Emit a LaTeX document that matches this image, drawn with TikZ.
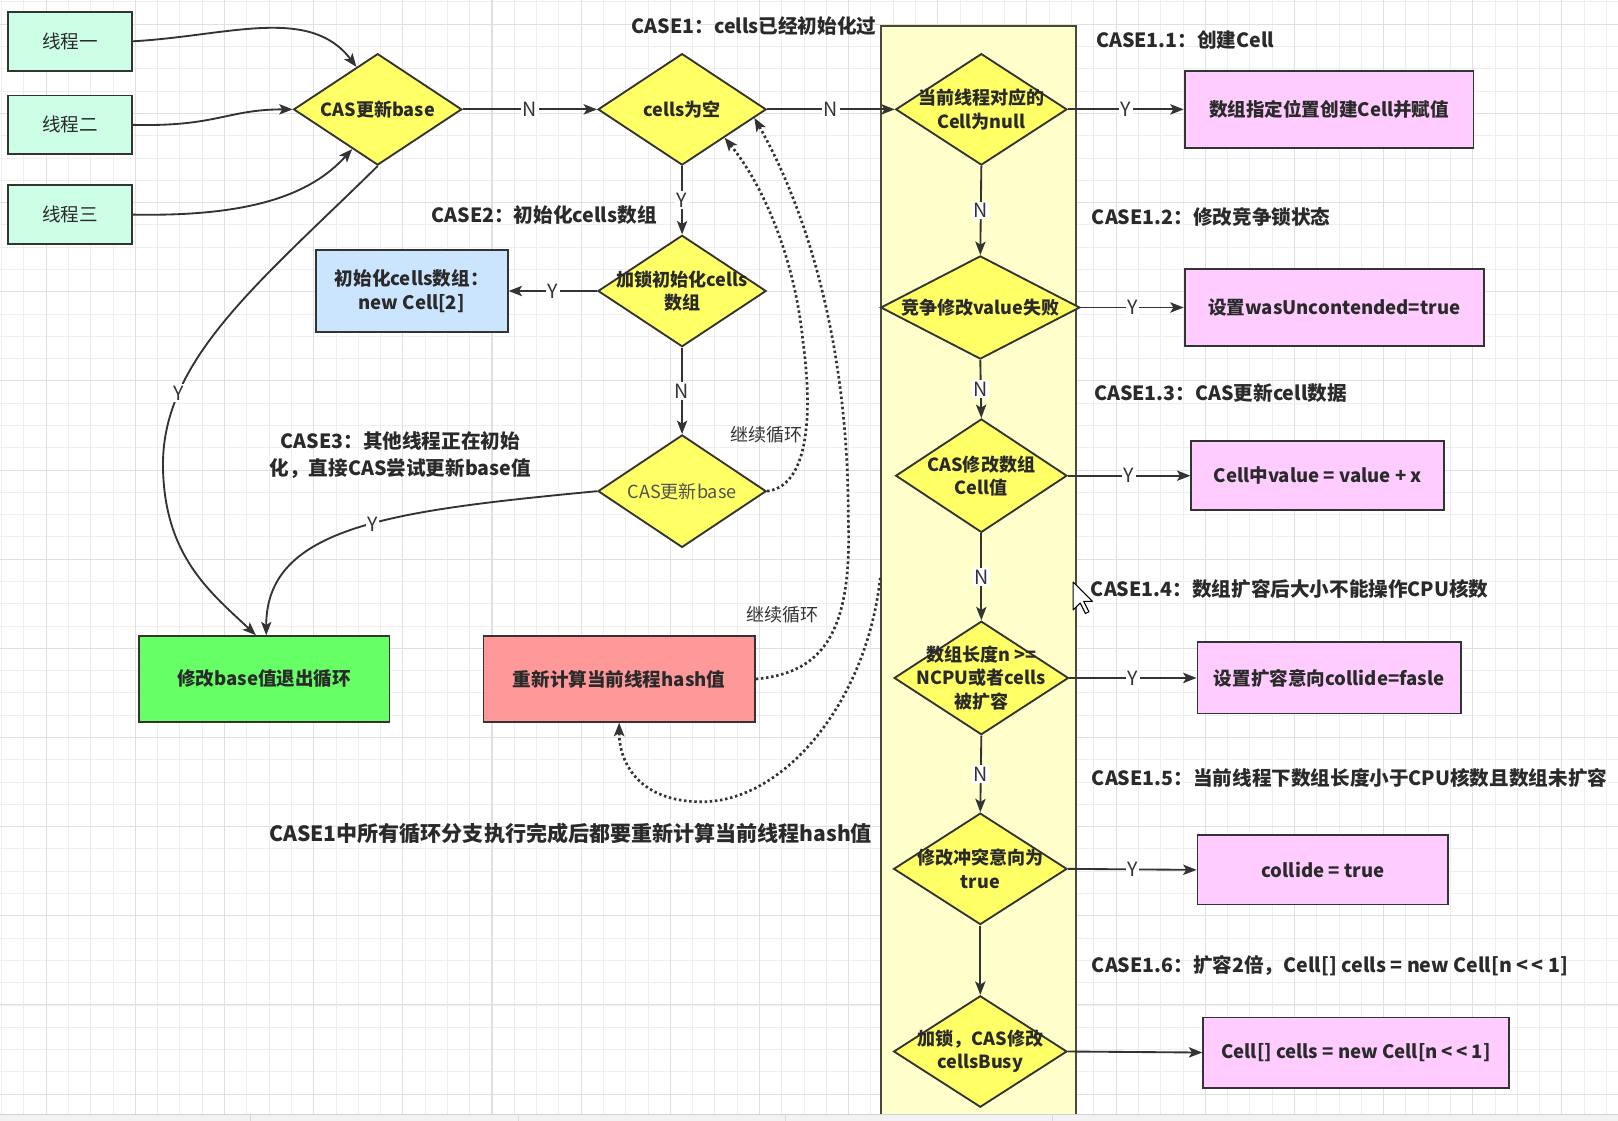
\documentclass[tikz,border=0pt]{standalone}
\usepackage{fontspec}
\setmainfont{Noto Sans CJK SC}
\usetikzlibrary{shapes.geometric,arrows.meta,calc}
\definecolor{ln}{HTML}{333333}
\definecolor{txt}{HTML}{2A2A2A}
\definecolor{dfill}{HTML}{FFFF66}
\definecolor{thr}{HTML}{CCFFE6}
\definecolor{blu}{HTML}{CCE5FF}
\definecolor{grn}{HTML}{66FF66}
\definecolor{rd}{HTML}{FF9999}
\definecolor{pnk}{HTML}{FFCCFF}
\definecolor{bandfill}{HTML}{FFFFCC}
\definecolor{bandline}{HTML}{4A4A35}
\definecolor{gminor}{HTML}{EEEEEE}
\definecolor{gmajor}{HTML}{E0E0E0}
\begin{document}
\begin{tikzpicture}[x=1pt,y=-1pt,
  every node/.style={inner sep=0pt, text=txt},
  box/.style={draw=ln, line width=1.8pt, rectangle, align=center, font=\fontsize{18}{23}\selectfont\bfseries},
  thbox/.style={box, fill=thr, minimum width=120, minimum height=57, font=\fontsize{18}{23}\selectfont},
  pbox/.style={box, fill=pnk},
  dia/.style={draw=ln, line width=1.8pt, diamond, fill=dfill},
  dtxt/.style={align=center, font=\fontsize{17.5}{22.5}\selectfont\bfseries},
  casel/.style={anchor=west, font=\fontsize{19}{27}\selectfont\bfseries},
  conn/.style={draw=ln, line width=1.8pt, -{Stealth[length=13pt,width=10pt,inset=3pt]}},
  dots/.style={conn, line width=2.6pt, dash pattern=on 2.4pt off 2.6pt},
  yn/.style={fill=white, inner sep=1.5pt, font=\fontsize{19}{19}\selectfont, text=ln},
  loopl/.style={font=\fontsize{17.5}{18}\selectfont, text=ln},
]
\useasboundingbox (0,0) rectangle (1568,1086.3);
\fill[white] (0,0) rectangle (1568,1086.3);
% grid
\foreach \i in {0,...,72}{\draw[gminor,line width=0.9pt] ({1.6+21.6*\i},0) -- ({1.6+21.6*\i},1086.3);}
\foreach \j in {0,...,50}{\draw[gminor,line width=0.9pt] (0,{1.9+21.6*\j}) -- (1568,{1.9+21.6*\j});}
\foreach \i in {0,...,18}{\draw[gmajor,line width=1pt] ({44.8+86.4*\i},0) -- ({44.8+86.4*\i},1086.3);}
\foreach \j in {0,...,12}{\draw[gmajor,line width=1pt] (0,{23.5+86.4*\j}) -- (1568,{23.5+86.4*\j});}

% band
\node[draw=bandline, fill=bandfill, line width=1.8pt, minimum width=189, minimum height=1070, anchor=north west] (band) at (853,24) {};
\coordinate (bandpt) at ($(band.north west)+(0,536)$);

% thread boxes
\node[thbox] (t1) at (68,40) {线程一};
\node[thbox] (t2) at (68,121) {线程二};
\node[thbox] (t3) at (68,208) {线程三};

% diamonds
\node[dia, minimum width=163, minimum height=108] (d0) at (366,106) {};
\node[dtxt] (d0t) at (d0) {CAS更新base};
\node[dia, minimum width=163, minimum height=108] (d1) at (661,106) {};
\node[dtxt] (d1t) at (d1) {cells为空};
\node[dia, minimum width=163, minimum height=108] (d2) at (661,282) {};
\node[dtxt] (d2t) at (d2) {加锁初始化cells\\数组};
\node[dia, minimum width=163, minimum height=109] (d3) at (661,476) {};
\node[dtxt, font=\fontsize{17.5}{22.5}\selectfont, text=ln!85] (d3t) at (d3) {CAS更新base};

\node[dia, minimum width=166, minimum height=108] (da) at (951,106) {};
\node[dtxt] (dat) at (da) {当前线程对应的\\Cell为null};
\node[dia, minimum width=193, minimum height=100] (db) at (950,298) {};
\node[dtxt] (dbt) at (db) {竞争修改value失败};
\node[dia, minimum width=166, minimum height=110] (dc) at (951,461) {};
\node[dtxt] (dct) at (dc) {CAS修改数组\\Cell值};
\node[dia, minimum width=169, minimum height=110] (dd) at (951,657) {};
\node[dtxt] (ddt) at (dd) {数组长度n >=\\NCPU或者cells\\被扩容};
\node[dia, minimum width=168, minimum height=108] (de) at (950,842) {};
\node[dtxt] (det) at (de) {修改冲突意向为\\true};
\node[dia, minimum width=168, minimum height=108] (df) at (950,1019) {};
\node[dtxt] (dft) at (df) {加锁，CAS修改\\cellsBusy};

% other boxes
\node[box, fill=blu, minimum width=186, minimum height=79] (bl) at (399,282) {初始化cells数组：\\new Cell[2]};
\node[box, fill=grn, minimum width=243, minimum height=83] (gb) at (256,658) {修改base值退出循环};
\node[box, fill=rd, minimum width=263, minimum height=83] (rb) at (600,658) {重新计算当前线程hash值};

\node[pbox, minimum width=280, minimum height=75] (p1) at (1288,106) {数组指定位置创建Cell并赋值};
\node[pbox, minimum width=290, minimum height=75] (p2) at (1293,298) {设置wasUncontended=true};
\node[pbox, minimum width=245, minimum height=67] (p3) at (1277,461) {Cell中value\ =\ value\ +\ x};
\node[pbox, minimum width=255, minimum height=69] (p4) at (1288,657) {设置扩容意向collide=fasle};
\node[pbox, minimum width=243, minimum height=67] (p5) at (1282,843) {collide\ =\ true};
\node[pbox, minimum width=296, minimum height=68] (p6) at (1314,1020) {Cell[] cells\ =\ new Cell[n\ <\,<\ 1]};

% case labels
\node[casel] (c1) at (612,25) {CASE1：cells已经初始化过};
\node[casel] (c2) at (418,208) {CASE2：初始化cells数组};
\node[font=\fontsize{19}{27}\selectfont\bfseries, align=center] (c3) at (388,441) {CASE3：其他线程正在初始\\化，直接CAS尝试更新base值};
\node[casel] (c11) at (1062,39) {CASE1.1：创建Cell};
\node[casel] (c12) at (1058,210) {CASE1.2：修改竞争锁状态};
\node[casel] (c13) at (1060,381) {CASE1.3：CAS更新cell数据};
\node[casel] (c14) at (1057,571) {CASE1.4：数组扩容后大小不能操作CPU核数};
\node[casel] (c15) at (1058,754) {CASE1.5：当前线程下数组长度小于CPU核数且数组未扩容};
\node[casel] (c16) at (1058,936) {CASE1.6：扩容2倍，Cell[] cells\ =\ new Cell[n\ <\,<\ 1]};
\node[font=\fontsize{20.4}{24}\selectfont\bfseries] (note) at (553,808) {CASE1中所有循环分支执行完成后都要重新计算当前线程hash值};
\node[loopl] (lp1) at (743,421) {继续循环};
\node[loopl] (lp2) at (758,596) {继续循环};

% connectors: threads
\draw[conn] (t1.east) .. controls (220,35) and (300,5) .. ($(d0.north)!0.25!(d0.west)$);
\draw[conn] (t2.east) .. controls (210,123) and (220,106) .. (d0.west);
\draw[conn] (t3.east) .. controls (240,210) and (300,190) .. ($(d0.south)!0.3!(d0.west)$);

% main flow
\draw[conn] (d0.east) -- node[yn]{N} (d1.west);
\draw[conn] (d1.east) -- node[yn]{N} (da.west);
\draw[conn] (d1.south) -- node[yn]{Y} (d2.north);
\draw[conn] (d2.west) -- node[yn]{Y} (bl.east);
\draw[conn] (d2.south) -- node[yn]{N} (d3.north);

\draw[conn] (d0.south) .. controls (250,275) and (155,350) .. (158,455) node[yn,pos=0.75]{Y}
   .. controls (160,540) and (205,575) .. ($(gb.north)+(-8,0)$);
\draw[conn] (d3.west) .. controls (380,495) and (258,510) .. ($(gb.north)+(2,0)$) node[yn,pos=0.45]{Y};

% dotted loops
\draw[dots] (d3.east) .. controls (790,470) and (785,380) .. (778,330)
   .. controls (770,250) and (740,180) .. ($(d1.south)!0.5!(d1.east)$);
\draw[dots] (rb.east) .. controls (800,652) and (826,610) .. (822,500)
   .. controls (822,330) and (780,200) .. ($(d1.east)!0.15!(d1.south)$);
\draw[dots] (bandpt) .. controls (840,680) and (760,777) .. (680,777)
   .. controls (620,777) and (600,740) .. (rb.south);

% band column
\draw[conn] (da.south) -- node[yn]{N} (db.north);
\draw[conn] (db.south) -- node[yn]{N} (dc.north);
\draw[conn] (dc.south) -- node[yn]{N} (dd.north);
\draw[conn] (dd.south) -- node[yn]{N} (de.north);
\draw[conn] (de.south) -- (df.north);

\draw[conn] (da.east) -- node[yn]{Y} (p1.west);
\draw[conn] (db.east) -- node[yn]{Y} (p2.west);
\draw[conn] (dc.east) -- node[yn]{Y} (p3.west);
\draw[conn] (dd.east) -- node[yn]{Y} (p4.west);
\draw[conn] (de.east) -- node[yn]{Y} (p5.west);
\draw[conn] (df.east) -- (p6.west);

% mouse cursor
\draw[black, fill=white, line width=1pt, line join=round] (1040,564) -- ++(0,27) -- ++(6.8,-6.6) -- ++(5.1,10.2) -- ++(3.4,-1.7) -- ++(-5.1,-10.2) -- ++(8.5,0) -- cycle;

% bottom bar
\fill[gray!10] (0,1080) rectangle (1568,1090);
\draw[gray!35, line width=0.8pt] (0,1080) -- (1568,1080);
\foreach \sx in {243,502,761,1020}{\draw[gray!30, line width=0.8pt] (\sx,1080) -- (\sx,1087);}
\end{tikzpicture}
\end{document}
